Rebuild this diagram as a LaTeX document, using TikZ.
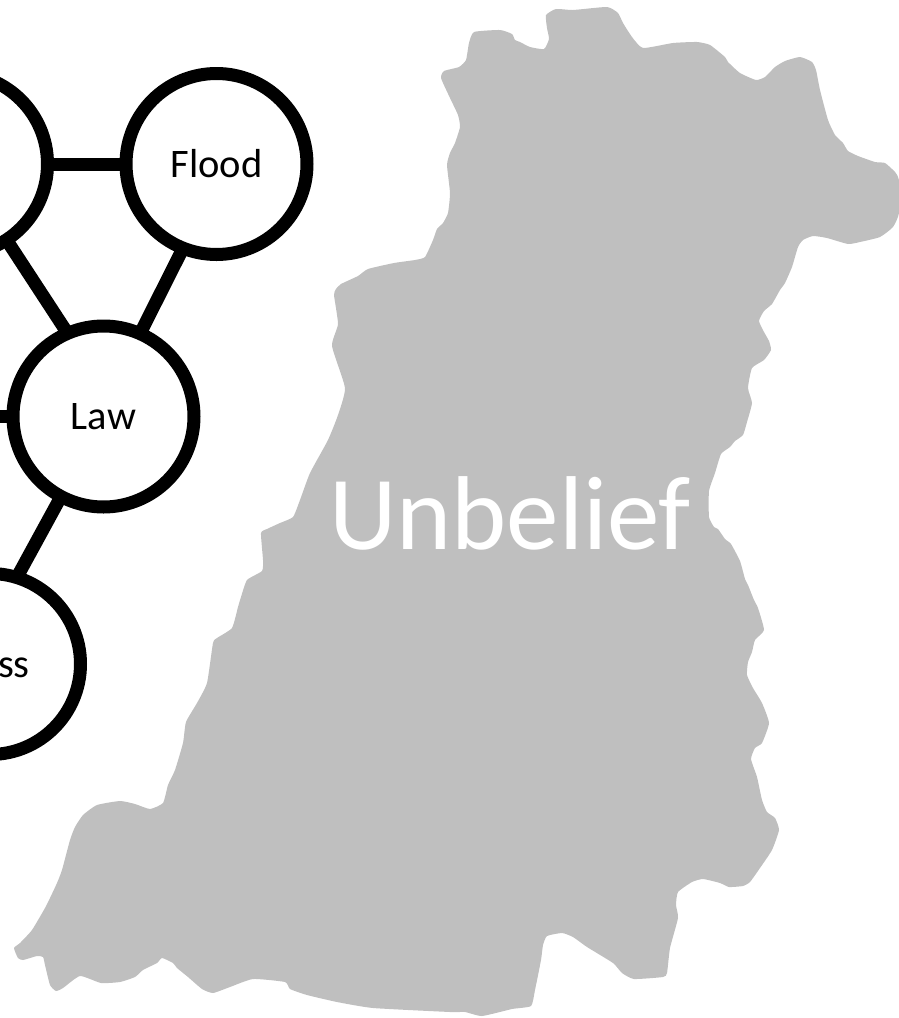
\documentclass[tikz,border=0pt]{standalone}
\usepackage{fontspec}
\setmainfont{Carlito}
\definecolor{regiongray}{HTML}{BFBFBF}

\begin{document}
\begin{tikzpicture}[
    x=1pt, y=-1pt,
    topic/.style={circle, draw, line width=13pt, minimum size=181pt, inner sep=0pt, font=\fontsize{40.5}{48}\selectfont},
    link/.style={line width=13pt, line cap=rect}
]
    \useasboundingbox (0,0) rectangle (898,1018);

    % Region
    \fill[regiongray] plot[smooth cycle, tension=0.3] coordinates {
        (441,78) (444,71) (459,67) (466,60) (469,43) (474,32) (500,30) (512,34) (515,40) (520,42)
        (530,47) (544,49) (549,39) (547,28) (546,15) (556,9) (573,10) (607,7) (618,13) (623,23)
        (632,37) (643,48) (673,43) (697,42) (710,45) (725,57) (728,62) (740,73) (756,80) (765,77)
        (775,67) (785,61) (800,57) (812,62) (816,70) (820,90) (828,120) (835,135) (843,143) (848,151)
        (858,156) (875,162) (885,163) (895,172) (899,180) (899,213) (893,227) (880,237) (860,242) (848,244)
        (827,238) (813,236) (803,240) (798,247) (792,267) (785,283) (780,290) (772,304) (764,311) (759,321)
        (764,332) (769,341) (771,350) (764,360) (752,368) (748,388) (752,403) (747,422) (743,435) (735,441)
        (730,447) (721,454) (715,473) (709,491) (709,517) (714,527) (718,529) (725,539) (731,544) (740,561)
        (745,579) (748,585) (754,600) (758,608) (764,630) (755,640) (752,652) (748,662) (747,675) (753,688)
        (762,703) (769,723) (762,743) (755,748) (751,759) (757,777) (762,800) (767,812) (775,818) (779,830)
        (772,850) (760,868) (750,882) (743,886) (729,887) (720,883) (703,879) (692,882) (678,892) (676,905)
        (678,918) (670,948) (667,973) (663,977) (634,979) (622,973) (613,963) (587,947) (573,937) (562,933)
        (547,936) (543,945) (541,960) (535,990) (531,1006) (512,1009) (482,1016) (465,1012) (450,1012) (373,1008)
        (337,1002) (307,995) (290,989) (285,982) (253,979) (230,987) (213,993) (202,989) (188,977) (177,968)
        (173,963) (162,958) (157,963) (143,970) (135,977) (120,982) (101,983) (80,976) (63,988) (56,991)
        (50,985) (45,965) (43,957) (37,956) (23,960) (18,958) (14,948) (20,943) (32,930) (45,908)
        (50,898) (57,883) (62,870) (70,840) (75,827) (83,815) (97,805) (120,801) (135,804) (150,809)
        (163,803) (168,785) (175,770) (183,743) (186,722) (197,703) (207,683) (213,643) (217,638) (232,628)
        (238,607) (241,597) (247,580) (262,571) (263,560) (261,533) (267,529) (280,523) (293,517) (300,500)
        (310,473) (328,440) (338,415) (345,388) (332,346) (338,324) (334,295) (336,289) (341,284) (358,276)
        (368,269) (394,263) (415,260) (425,257) (433,240) (437,229) (443,223) (448,213) (450,193) (447,165)
        (450,153) (455,143) (460,127) (458,115) (450,98)
    };
    \node[anchor=base, text=white, font=\fontsize{105}{120}\selectfont] (unbelief) at (510,549.5) {Unbelief};

    % Circles
    \node[topic] (upper) at (-43,164) {};
    \node[topic] (flood) at (216.5,164) {Flood};
    \node[topic] (law) at (103.5,416.5) {Law};
    \node[topic] (lower) at (-10,664) {};
    \node[font=\fontsize{40.5}{48}\selectfont] (lowertext) at (14,668) {ss};
    \coordinate (stub) at (-30,416.5);

    % Links
    \draw[link] (upper) -- (flood);
    \draw[link] (upper) -- (law.114);
    \draw[link] (flood.-112) -- (law.66);
    \draw[link] (law.242) -- (lower.72);
    \draw[link] (stub) -- (law);
\end{tikzpicture}
\end{document}
